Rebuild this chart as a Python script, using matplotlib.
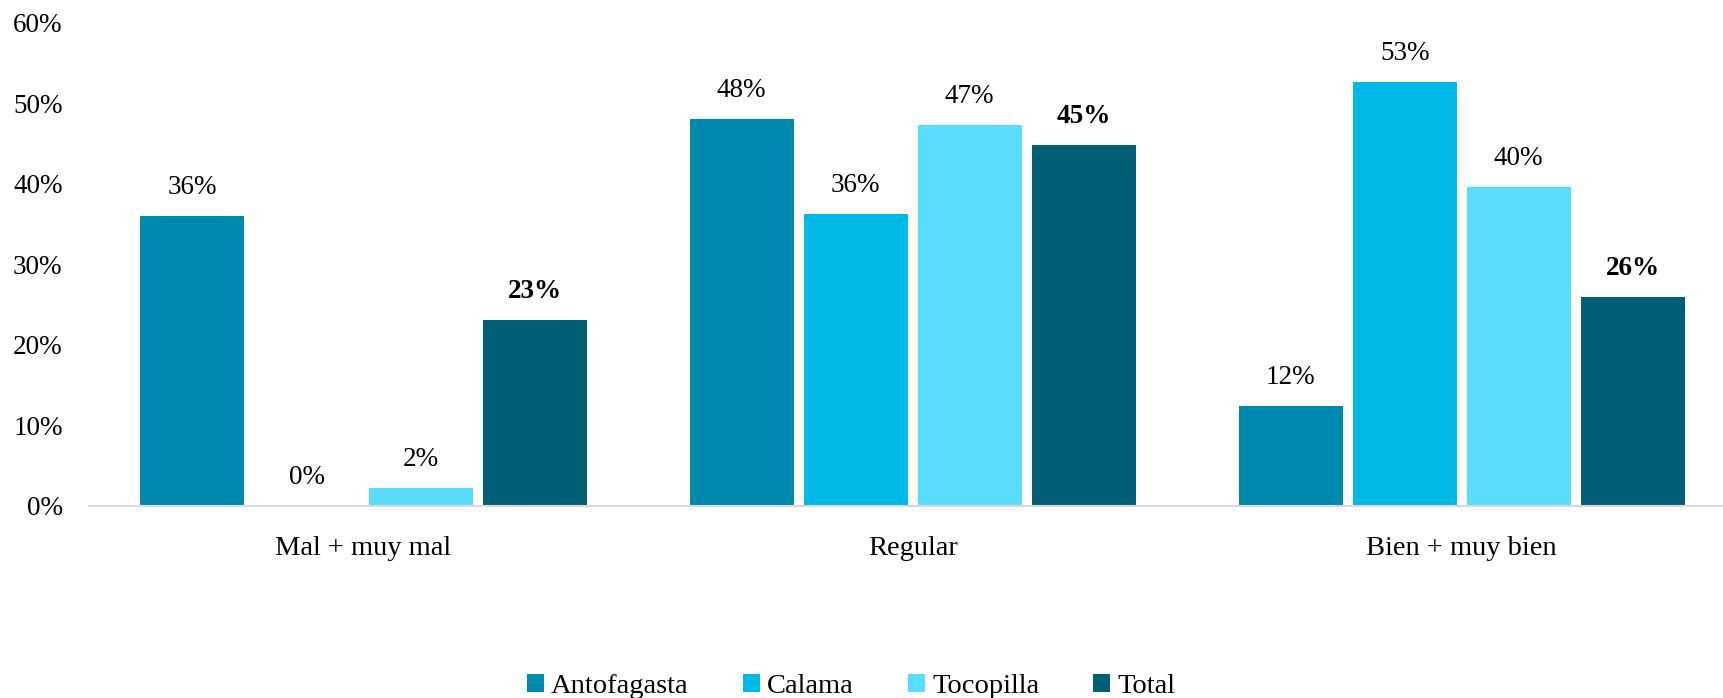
import numpy as np
import matplotlib
matplotlib.use('Agg')
import matplotlib.pyplot as plt

plt.rcParams['font.family'] = ['Liberation Serif', 'DejaVu Serif']

categories = ['Mal + muy mal', 'Regular', 'Bien + muy bien']
series = ['Antofagasta', 'Calama', 'Tocopilla', 'Total']
antofagasta = [36.0, 48.0, 12.4]
calama = [0.0, 36.2, 52.6]
tocopilla = [2.2, 47.3, 39.6]
total = [23.0, 44.8, 25.9]
colors = ['#0089AF', '#00B9E6', '#5ADCFF', '#005E75']

values = [antofagasta, calama, tocopilla, total]

fig = plt.figure(figsize=(17.23, 6.98), dpi=100)
ax = fig.add_axes([89 / 1723, 1 - 505.5 / 698, (1723 - 89) / 1723, 483 / 698])

x = np.arange(len(categories))
width = 0.1894
pitch = 0.2077

for i, (name, vals, col) in enumerate(zip(series, values, colors)):
    pos = x + (i - 1.5) * pitch
    bars = ax.bar(pos, vals, width, color=col, label=name)
    bold = name == 'Total'
    for b, v in zip(bars, vals):
        ax.annotate(f'{v:.0f}%', (b.get_x() + b.get_width() / 2, v),
                    xytext=(0, 20.5), textcoords='offset points',
                    ha='center', va='center', fontsize=19.5,
                    fontweight='bold' if bold else 'normal')

ax.set_xlim(-0.5, 2.476)
ax.set_ylim(0, 60)
ax.set_yticks(np.arange(0, 61, 10))
ax.set_yticklabels([f'{t}%' for t in range(0, 61, 10)])
ax.set_xticks(x)
ax.set_xticklabels(categories)
ax.tick_params(axis='both', length=0)
ax.tick_params(axis='y', pad=19, labelsize=19.5)
ax.tick_params(axis='x', pad=22, labelsize=20.5)

for s in ['top', 'right', 'left']:
    ax.spines[s].set_visible(False)
ax.spines['bottom'].set_color('#D9D9D9')
ax.spines['bottom'].set_linewidth(1.5)

fig.legend(loc='center', bbox_to_anchor=(0.494, 0.016), ncol=4, frameon=False,
           fontsize=20.5, handlelength=0.6, handleheight=0.6,
           handletextpad=0.25, columnspacing=1.9)

fig.savefig('out.png', dpi=100, facecolor='white')
